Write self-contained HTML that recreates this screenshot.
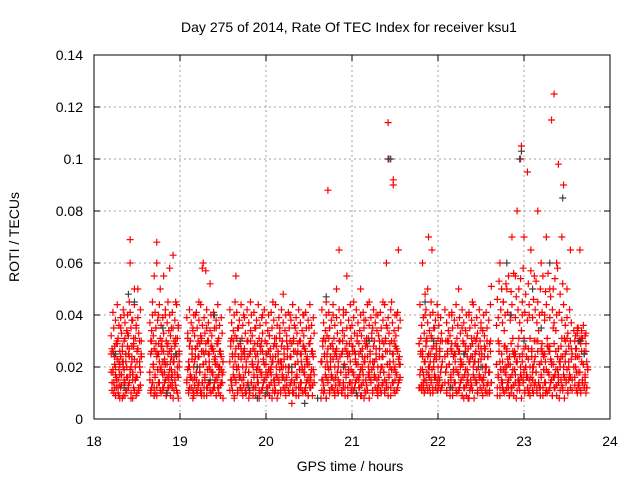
<!DOCTYPE html>
<html><head><meta charset="utf-8"><style>
html,body{margin:0;padding:0;background:#fff;}
svg{display:block;font-family:"Liberation Sans",sans-serif;}
</style></head><body>
<svg id="chart" width="640" height="480" viewBox="0 0 640 480"></svg>
<script>
// ---- data ----
const xTicks=[18,19,20,21,22,23,24];
const yTicks=[0,0.02,0.04,0.06,0.08,0.1,0.12,0.14];
const yTickLabels=["0","0.02","0.04","0.06","0.08","0.1","0.12","0.14"];
const redTimes=[
18.22,18.23,18.24,18.25,18.26,18.27,18.28,18.29,18.3,18.31,18.32,18.33,18.34,18.35,18.36,18.37,18.38,18.39,18.4,18.41,18.42,18.42,18.43,18.44,18.45,18.46,18.47,18.48,18.49,18.5,18.51,18.52,18.53,18.54,18.55,18.3,18.35,18.45,18.5,
18.65,18.66,18.67,18.68,18.69,18.70,18.71,18.72,18.73,18.73,18.74,18.75,18.76,18.77,18.78,18.79,18.80,18.81,18.82,18.83,18.84,18.85,18.86,18.87,18.88,18.89,18.90,18.91,18.92,18.93,18.94,18.95,18.96,18.97,18.98,18.99,18.70,18.80,18.90,
19.1,19.11,19.12,19.13,19.14,19.15,19.16,19.17,19.18,19.19,19.2,19.21,19.22,19.23,19.24,19.25,19.26,19.27,19.28,19.29,19.3,19.31,19.32,19.33,19.34,19.35,19.36,19.37,19.38,19.39,19.4,19.41,19.42,19.43,19.44,19.45,19.46,19.47,19.48,19.5,19.15,19.25,19.35,19.45,
19.6,19.62,19.64,19.65,19.66,19.68,19.7,19.72,19.74,19.76,19.78,19.8,19.82,19.84,19.86,19.88,19.9,19.92,19.94,19.96,19.98,20.0,20.02,20.04,20.06,20.08,20.1,20.12,20.14,20.16,20.18,20.2,20.22,20.24,20.26,20.28,20.3,20.32,20.34,20.36,20.38,20.4,20.42,20.44,20.46,20.48,20.5,20.52,20.54,19.63,19.7,19.8,19.9,20.0,20.1,20.2,20.3,20.4,20.5,19.75,19.85,19.95,20.05,20.15,20.25,20.35,20.45,
20.65,20.67,20.69,20.7,20.72,20.72,20.74,20.76,20.78,20.8,20.82,20.84,20.85,20.86,20.88,20.9,20.92,20.94,20.96,20.98,21.0,21.02,21.04,21.06,21.08,21.1,21.12,21.14,21.16,21.18,21.2,21.22,21.24,21.26,21.28,21.3,21.32,21.34,21.36,21.38,21.4,21.41,21.42,21.43,21.44,21.46,21.48,21.48,21.49,21.5,21.52,21.54,20.7,20.8,20.9,21.0,21.1,21.2,21.3,21.4,21.5,20.75,20.95,21.15,21.35,
21.8,21.82,21.84,21.85,21.86,21.88,21.89,21.9,21.92,21.93,21.94,21.96,21.98,22.0,22.02,22.04,21.83,21.87,21.91,21.95,21.99,22.03,
22.1,22.12,22.14,22.16,22.18,22.2,22.22,22.24,22.26,22.28,22.3,22.32,22.34,22.36,22.38,22.4,22.42,22.44,22.46,22.48,22.5,22.52,22.54,22.56,22.58,22.6,22.15,22.25,22.35,22.45,22.55,
22.7,22.72,22.74,22.76,22.78,22.8,22.82,22.84,22.86,22.88,22.9,22.92,22.94,22.96,22.97,22.98,23.0,23.02,23.04,23.06,23.08,23.1,23.12,23.14,23.16,23.18,23.2,23.22,23.24,23.26,23.28,23.3,23.32,23.34,23.35,23.36,23.38,23.4,23.42,23.44,23.46,23.48,23.5,23.52,23.54,22.75,22.85,22.95,23.05,23.15,23.25,23.35,23.45,22.8,23.0,23.2,23.4,22.9,23.1,23.3,
23.6,23.62,23.64,23.66,23.68,23.7,23.72,23.74,23.63,23.67,23.71,23.65
];
const redRoti=[
0.018,0.025,0.012,0.02,0.015,0.03,0.01,0.022,0.017,0.035,0.013,0.028,0.02,0.04,0.009,0.025,0.016,0.033,0.012,0.045,0.069,0.06,0.02,0.038,0.008,0.028,0.05,0.015,0.035,0.022,0.05,0.012,0.03,0.018,0.025,0.008,0.014,0.018,0.01,
0.015,0.03,0.012,0.045,0.02,0.055,0.01,0.035,0.068,0.06,0.025,0.04,0.014,0.05,0.02,0.03,0.012,0.055,0.018,0.04,0.01,0.028,0.045,0.015,0.058,0.022,0.035,0.012,0.063,0.03,0.018,0.045,0.025,0.01,0.035,0.02,0.009,0.022,0.016,
0.02,0.012,0.03,0.016,0.025,0.035,0.01,0.022,0.04,0.015,0.028,0.012,0.045,0.02,0.032,0.01,0.058,0.06,0.025,0.015,0.057,0.035,0.012,0.03,0.02,0.052,0.01,0.027,0.018,0.04,0.012,0.022,0.035,0.015,0.03,0.01,0.02,0.025,0.014,0.018,0.008,0.009,0.014,0.02,
0.015,0.03,0.045,0.055,0.02,0.035,0.012,0.025,0.04,0.01,0.03,0.018,0.045,0.022,0.012,0.035,0.02,0.008,0.028,0.04,0.015,0.025,0.01,0.032,0.02,0.045,0.015,0.028,0.01,0.035,0.022,0.048,0.012,0.03,0.02,0.04,0.015,0.01,0.035,0.025,0.012,0.03,0.02,0.04,0.01,0.022,0.035,0.015,0.025,0.009,0.012,0.008,0.016,0.018,0.01,0.02,0.006,0.012,0.014,0.025,0.02,0.03,0.018,0.022,0.028,0.016,0.02,
0.015,0.01,0.03,0.045,0.088,0.02,0.035,0.012,0.04,0.025,0.05,0.015,0.065,0.03,0.01,0.042,0.02,0.055,0.018,0.035,0.012,0.045,0.025,0.032,0.015,0.05,0.02,0.038,0.01,0.028,0.045,0.015,0.035,0.022,0.04,0.012,0.03,0.02,0.045,0.015,0.06,0.035,0.114,0.1,0.02,0.045,0.09,0.092,0.03,0.015,0.04,0.065,0.008,0.01,0.012,0.014,0.009,0.018,0.01,0.012,0.02,0.022,0.025,0.03,0.02,
0.025,0.06,0.015,0.04,0.03,0.05,0.07,0.02,0.045,0.065,0.012,0.035,0.025,0.04,0.015,0.02,0.012,0.018,0.01,0.022,0.014,0.03,
0.02,0.03,0.012,0.04,0.018,0.025,0.01,0.05,0.02,0.035,0.008,0.028,0.015,0.04,0.012,0.045,0.022,0.03,0.01,0.025,0.035,0.015,0.028,0.02,0.01,0.018,0.015,0.012,0.008,0.014,0.02,
0.03,0.06,0.015,0.045,0.02,0.05,0.012,0.04,0.07,0.025,0.055,0.08,0.015,0.1,0.105,0.045,0.07,0.02,0.095,0.04,0.065,0.015,0.055,0.03,0.08,0.012,0.06,0.025,0.04,0.07,0.018,0.05,0.115,0.035,0.125,0.012,0.06,0.098,0.02,0.07,0.09,0.03,0.05,0.015,0.065,0.012,0.01,0.014,0.01,0.012,0.01,0.016,0.012,0.02,0.018,0.022,0.016,0.025,0.02,0.028,
0.02,0.035,0.012,0.03,0.015,0.025,0.01,0.02,0.018,0.022,0.014,0.065
];
// dense low-level band: sample times (hours) and three ROTI readings per time
const bandTimes=[
18.20,18.21,18.22,18.23,18.24,18.25,18.26,18.27,18.28,18.29,18.30,18.31,18.32,18.33,18.34,18.35,18.36,18.37,18.38,18.39,18.40,18.41,18.42,18.43,18.44,18.45,18.46,18.47,18.48,18.49,18.50,18.51,18.52,18.53,18.54,18.55,
18.65,18.66,18.67,18.68,18.69,18.70,18.71,18.72,18.73,18.74,18.75,18.76,18.77,18.78,18.79,18.80,18.81,18.82,18.83,18.84,18.85,18.86,18.87,18.88,18.89,18.90,18.91,18.92,18.93,18.94,18.95,18.96,18.97,18.98,18.99,
19.08,19.09,19.10,19.11,19.12,19.13,19.14,19.15,19.16,19.17,19.18,19.19,19.20,19.21,19.22,19.23,19.24,19.25,19.26,19.27,19.28,19.29,19.30,19.31,19.32,19.33,19.34,19.35,19.36,19.37,19.38,19.39,19.40,19.41,19.42,19.43,19.44,19.45,19.46,19.47,19.48,19.49,19.50,
19.58,19.59,19.60,19.61,19.62,19.63,19.64,19.65,19.66,19.67,19.68,19.69,19.70,19.71,19.72,19.73,19.74,19.75,19.76,19.77,19.78,19.79,19.80,19.81,19.82,19.83,19.84,19.85,19.86,19.87,19.88,19.89,19.90,19.91,19.92,19.93,19.94,19.95,19.96,19.97,19.98,19.99,
20.00,20.01,20.02,20.03,20.04,20.05,20.06,20.07,20.08,20.09,20.10,20.11,20.12,20.13,20.14,20.15,20.16,20.17,20.18,20.19,20.20,20.21,20.22,20.23,20.24,20.25,20.26,20.27,20.28,20.29,20.30,20.31,20.32,20.33,20.34,20.35,20.36,20.37,20.38,20.39,20.40,20.41,20.42,20.43,20.44,20.45,20.46,20.47,20.48,20.49,20.50,20.51,20.52,20.53,20.54,20.55,20.56,
20.64,20.65,20.66,20.67,20.68,20.69,20.70,20.71,20.72,20.73,20.74,20.75,20.76,20.77,20.78,20.79,20.80,20.81,20.82,20.83,20.84,20.85,20.86,20.87,20.88,20.89,20.90,20.91,20.92,20.93,20.94,20.95,20.96,20.97,20.98,20.99,
21.00,21.01,21.02,21.03,21.04,21.05,21.06,21.07,21.08,21.09,21.10,21.11,21.12,21.13,21.14,21.15,21.16,21.17,21.18,21.19,21.20,21.21,21.22,21.23,21.24,21.25,21.26,21.27,21.28,21.29,21.30,21.31,21.32,21.33,21.34,21.35,21.36,21.37,21.38,21.39,21.40,21.41,21.42,21.43,21.44,21.45,21.46,21.47,21.48,21.49,21.50,21.51,21.52,21.53,21.54,21.55,21.56,
21.78,21.79,21.80,21.81,21.82,21.83,21.84,21.85,21.86,21.87,21.88,21.89,21.90,21.91,21.92,21.93,21.94,21.95,21.96,21.97,21.98,21.99,22.00,22.01,22.02,22.03,22.04,22.05,
22.08,22.09,22.10,22.11,22.12,22.13,22.14,22.15,22.16,22.17,22.18,22.19,22.20,22.21,22.22,22.23,22.24,22.25,22.26,22.27,22.28,22.29,22.30,22.31,22.32,22.33,22.34,22.35,22.36,22.37,22.38,22.39,22.40,22.41,22.42,22.43,22.44,22.45,22.46,22.47,22.48,22.49,22.50,22.51,22.52,22.53,22.54,22.55,22.56,22.57,22.58,22.59,22.60,22.61,22.62,
22.68,22.69,22.70,22.71,22.72,22.73,22.74,22.75,22.76,22.77,22.78,22.79,22.80,22.81,22.82,22.83,22.84,22.85,22.86,22.87,22.88,22.89,22.90,22.91,22.92,22.93,22.94,22.95,22.96,22.97,22.98,22.99,
23.00,23.01,23.02,23.03,23.04,23.05,23.06,23.07,23.08,23.09,23.10,23.11,23.12,23.13,23.14,23.15,23.16,23.17,23.18,23.19,23.20,23.21,23.22,23.23,23.24,23.25,23.26,23.27,23.28,23.29,23.30,23.31,23.32,23.33,23.34,23.35,23.36,23.37,23.38,23.39,23.40,23.41,23.42,23.43,23.44,23.45,23.46,23.47,23.48,23.49,23.50,23.51,23.52,23.53,23.54,23.55,23.56,
23.58,23.59,23.60,23.61,23.62,23.63,23.64,23.65,23.66,23.67,23.68,23.69,23.70,23.71,23.72,23.73,23.74,23.75
];
const bandRotiA=[
.018,.011,.026,.014,.021,.009,.016,.029,.012,.019,.013,.024,.017,.008,.022,.015,.031,.011,.020,.016,.025,.014,.019,.010,.028,.017,.012,.023,.015,.009,.016,.027,.011,.020,.013,.024,
.018,.010,.030,.014,.021,.012,.017,.026,.009,.019,.014,.022,.011,.028,.018,.011,.026,.014,.021,.009,.016,.029,.012,.019,.013,.024,.017,.008,.022,.015,.031,.011,.020,.016,.025,
.014,.019,.010,.028,.017,.012,.023,.015,.009,.016,.027,.011,.020,.013,.024,.018,.010,.030,.014,.021,.012,.017,.026,.009,.019,.014,.022,.011,.028,.018,.011,.026,.014,.021,.009,.016,.029,.012,.019,.013,.024,.017,
.008,.022,.015,.031,.011,.020,.016,.025,.014,.019,.010,.028,.017,.012,.023,.015,.009,.016,.027,.011,.020,.013,.024,.018,.010,.030,.014,.021,.012,.017,.026,.009,.019,.014,.022,.011,.028,.018,.011,.026,.014,.021,
.009,.016,.029,.012,.019,.013,.024,.017,.008,.022,.015,.031,.011,.020,.016,.025,.014,.019,.010,.028,.017,.012,.023,.015,.009,.016,.027,.011,.020,.013,.024,.018,.010,.030,.014,.021,.012,.017,.026,.009,.019,.014,.022,.011,.028,.018,.011,.026,.014,.021,.009,.016,.029,.012,.019,.013,.024,
.017,.008,.022,.015,.031,.011,.020,.016,.025,.014,.019,.010,.028,.017,.012,.023,.015,.009,.016,.027,.011,.020,.013,.024,.018,.010,.030,.014,.021,.012,.017,.026,.009,.019,.014,.022,
.011,.028,.018,.011,.026,.014,.021,.009,.016,.029,.012,.019,.013,.024,.017,.008,.022,.015,.031,.011,.020,.016,.025,.014,.019,.010,.028,.017,.012,.023,.015,.009,.016,.027,.011,.020,.013,.024,.018,.010,.030,.014,.021,.012,.017,.026,.009,.019,.014,.022,.011,.028,.018,.011,.026,.014,.021,
.016,.029,.012,.019,.013,.024,.017,.010,.022,.015,.031,.011,.020,.016,.025,.014,.019,.010,.028,.017,.012,.023,.015,.011,.016,.027,.011,.020,
.013,.024,.018,.010,.030,.014,.021,.012,.017,.026,.009,.019,.014,.022,.011,.028,.018,.011,.026,.014,.021,.009,.016,.029,.012,.019,.013,.024,.017,.008,.022,.015,.031,.011,.020,.016,.025,.014,.019,.010,.028,.017,.012,.023,.015,.009,.016,.027,.011,.020,.013,.024,.018,.010,.030,
.014,.021,.012,.017,.026,.009,.019,.014,.022,.011,.028,.018,.011,.026,.014,.021,.009,.016,.029,.012,.019,.013,.024,.017,.008,.022,.015,.031,.011,.020,.016,.025,
.014,.019,.010,.028,.017,.012,.023,.015,.009,.016,.027,.011,.020,.013,.024,.018,.010,.030,.014,.021,.012,.017,.026,.009,.019,.014,.022,.011,.028,.018,.011,.026,.014,.021,.009,.016,.029,.012,.019,.013,.024,.017,.008,.022,.015,.031,.011,.020,.016,.025,.014,.019,.010,.028,.017,.012,.023,
.015,.020,.016,.027,.011,.024,.013,.030,.018,.010,.031,.014,.021,.012,.017,.026,.012,.019
];
const bandRotiB=[
.025,.014,.019,.010,.028,.017,.012,.023,.015,.009,.021,.012,.017,.026,.009,.019,.014,.022,.011,.028,.013,.024,.017,.008,.022,.015,.031,.011,.020,.016,.016,.027,.011,.020,.013,.024,
.018,.011,.026,.014,.021,.009,.016,.029,.012,.019,.025,.014,.019,.010,.028,.017,.012,.023,.015,.009,.021,.012,.017,.026,.009,.019,.014,.022,.011,.028,.013,.024,.017,.008,.022,
.015,.031,.011,.020,.016,.016,.027,.011,.020,.013,.024,.018,.010,.030,.014,.018,.011,.026,.014,.021,.009,.016,.029,.012,.019,.025,.014,.019,.010,.028,.017,.012,.023,.015,.009,.021,.012,.017,.026,.009,.019,.014,
.022,.011,.028,.013,.024,.017,.008,.022,.015,.031,.011,.020,.016,.016,.027,.011,.020,.013,.024,.018,.010,.030,.014,.018,.011,.026,.014,.021,.009,.016,.029,.012,.019,.025,.014,.019,.010,.028,.017,.012,.023,
.015,.009,.021,.012,.017,.026,.009,.019,.014,.022,.011,.028,.013,.024,.017,.008,.022,.015,.031,.011,.020,.016,.016,.027,.011,.020,.013,.024,.018,.010,.030,.014,.018,.011,.026,.014,.021,.009,.016,.029,.012,.019,.025,.014,.019,.010,.028,.017,.012,.023,.015,.009,.021,.012,.017,.026,.009,.019,
.014,.022,.011,.028,.013,.024,.017,.008,.022,.015,.031,.011,.020,.016,.016,.027,.011,.020,.013,.024,.018,.010,.030,.014,.018,.011,.026,.014,.021,.009,.016,.029,.012,.019,.025,.014,
.019,.010,.028,.017,.012,.023,.015,.009,.021,.012,.017,.026,.009,.019,.014,.022,.011,.028,.013,.024,.017,.008,.022,.015,.031,.011,.020,.016,.016,.027,.011,.020,.013,.024,.018,.010,.030,.014,.018,.011,.026,.014,.021,.009,.016,.029,.012,.019,.025,.014,.019,.010,.028,.017,.012,.023,.015,
.021,.012,.017,.026,.011,.019,.014,.022,.011,.028,.013,.024,.017,.012,.022,.015,.031,.011,.020,.016,.016,.027,.011,.020,.013,.024,.018,.012,
.030,.014,.018,.011,.026,.014,.021,.009,.016,.029,.012,.019,.025,.014,.019,.010,.028,.017,.012,.023,.015,.009,.021,.012,.017,.026,.009,.019,.014,.022,.011,.028,.013,.024,.017,.008,.022,.015,.031,.011,.020,.016,.016,.027,.011,.020,.013,.024,.018,.010,.030,.014,.018,.011,.026,
.014,.021,.009,.016,.029,.012,.019,.025,.014,.019,.010,.028,.017,.012,.023,.015,.009,.021,.012,.017,.026,.009,.019,.014,.022,.011,.028,.013,.024,.017,.008,.022,
.015,.031,.011,.020,.016,.016,.027,.011,.020,.013,.024,.018,.010,.030,.014,.018,.011,.026,.014,.021,.009,.016,.029,.012,.019,.025,.014,.019,.010,.028,.017,.012,.023,.015,.009,.021,.012,.017,.026,.009,.019,.014,.022,.011,.028,.013,.024,.017,.008,.022,.015,.031,.011,.020,.016,.016,.027,
.011,.020,.013,.024,.018,.010,.030,.014,.018,.011,.026,.014,.021,.012,.016,.029,.012,.019
];
const bandRotiC=[
.032,.027,.041,.035,.024,.038,.029,.044,.031,.036,.026,.039,.033,.022,.042,.030,.037,.025,.034,.040,.032,.027,.041,.035,.024,.038,.029,.044,.031,.036,.026,.039,.033,.022,.042,.030,
.037,.025,.034,.040,.032,.027,.041,.035,.024,.038,.029,.044,.031,.036,.026,.039,.033,.022,.042,.030,.037,.025,.034,.040,.032,.027,.041,.035,.024,.038,.029,.044,.031,.036,.026,
.039,.033,.022,.042,.030,.037,.025,.034,.040,.032,.027,.041,.035,.024,.038,.029,.044,.031,.036,.026,.039,.033,.022,.042,.030,.037,.025,.034,.040,.032,.027,.041,.035,.024,.038,.029,.044,.031,.036,.026,.039,.033,
.022,.042,.030,.037,.025,.034,.040,.032,.027,.041,.035,.024,.038,.029,.044,.031,.036,.026,.039,.033,.022,.042,.030,.037,.025,.034,.040,.032,.027,.041,.035,.024,.038,.029,.044,.031,.036,.026,.039,.033,.022,
.042,.030,.037,.025,.034,.040,.032,.027,.041,.035,.024,.038,.029,.044,.031,.036,.026,.039,.033,.022,.042,.030,.037,.025,.034,.040,.032,.027,.041,.035,.024,.038,.029,.044,.031,.036,.026,.039,.033,.022,.042,.030,.037,.025,.034,.040,.032,.027,.041,.035,.024,.038,.029,.044,.031,.036,.026,
.039,.033,.022,.042,.030,.037,.025,.034,.040,.032,.027,.041,.035,.024,.038,.029,.044,.031,.036,.026,.039,.033,.022,.042,.030,.037,.025,.034,.040,.032,.027,.041,.035,.024,.038,.029,
.044,.031,.036,.026,.039,.033,.022,.042,.030,.037,.025,.034,.040,.032,.027,.041,.035,.024,.038,.029,.044,.031,.036,.026,.039,.033,.022,.042,.030,.037,.025,.034,.040,.032,.027,.041,.035,.024,.038,.029,.044,.031,.036,.026,.039,.033,.022,.042,.030,.037,.025,.034,.040,.032,.027,.041,.035,
.024,.038,.029,.044,.031,.036,.026,.039,.033,.048,.042,.030,.037,.025,.034,.040,.032,.027,.041,.035,.024,.038,.029,.044,.031,.036,.026,.039,
.033,.022,.042,.030,.037,.025,.034,.040,.032,.027,.041,.035,.024,.038,.029,.044,.031,.036,.026,.039,.033,.022,.042,.030,.037,.025,.034,.040,.032,.027,.041,.035,.024,.038,.029,.044,.031,.036,.026,.039,.033,.022,.042,.030,.037,.025,.034,.040,.032,.027,.041,.035,.024,.038,.029,
.044,.051,.036,.046,.039,.053,.022,.042,.050,.037,.045,.034,.040,.052,.027,.041,.055,.024,.038,.049,.044,.031,.056,.026,.039,.047,.022,.042,.050,.037,.054,.034,
.040,.058,.027,.041,.048,.024,.038,.052,.044,.031,.057,.026,.039,.046,.022,.042,.053,.037,.045,.034,.040,.050,.027,.041,.055,.024,.038,.049,.044,.031,.056,.026,.039,.047,.022,.042,.050,.037,.054,.034,.040,.058,.027,.041,.048,.024,.038,.052,.044,.031,.036,.026,.039,.033,.022,.042,.030,
.037,.025,.034,.030,.032,.027,.033,.035,.024,.031,.029,.034,.031,.036,.026,.032,.033,.022
];
const blackTimes=[18.25,18.4,18.47,18.8,18.95,19.2,19.4,19.7,20.0,20.3,20.7,20.9,21.2,21.42,21.45,21.85,21.95,22.3,22.5,22.8,22.95,22.97,23.1,23.2,23.3,23.45,23.7,23.65,19.9,20.45,21.05,22.15,22.85,23.0,18.35,18.85,19.35,19.8,20.6];
const blackRoti=[0.025,0.048,0.045,0.035,0.025,0.02,0.04,0.03,0.01,0.02,0.047,0.02,0.03,0.1,0.1,0.045,0.03,0.025,0.02,0.06,0.1,0.103,0.05,0.035,0.06,0.085,0.025,0.03,0.008,0.006,0.01,0.012,0.04,0.03,0.012,0.01,0.015,0.012,0.008];

// ---- layout ----
const L=94,R=610,T=55,B=419,X0=18,X1=24,Y0=0,Y1=0.14;
const xs=v=>L+(v-X0)/(X1-X0)*(R-L);
const ys=v=>B-(v-Y0)/(Y1-Y0)*(B-T);
const NS="http://www.w3.org/2000/svg";
const svg=document.getElementById('chart');
function mk(tag,attrs,parent){const e=document.createElementNS(NS,tag);for(const k in attrs)e.setAttribute(k,attrs[k]);(parent||svg).appendChild(e);return e;}

const grid=mk('g',{});


xTicks.forEach((t,i)=>{
  if(i>0&&i<xTicks.length-1){const g=mk('line',{x1:xs(t),x2:xs(t),y1:T,y2:B,stroke:'#a0a0a0','stroke-dasharray':'2,3','stroke-width':1},grid);
  }
  const tk=mk('line',{x1:xs(t),x2:xs(t),y1:B,y2:B-6,stroke:'#000'});
  
  const tk2=mk('line',{x1:xs(t),x2:xs(t),y1:T,y2:T+6,stroke:'#000'});
  
  const lb=mk('text',{x:xs(t),y:B+27,'text-anchor':'middle','font-size':14,fill:'#000'});lb.textContent=t;
  
});
yTicks.forEach((t,i)=>{
  if(i>0&&i<yTicks.length-1){const g=mk('line',{x1:L,x2:R,y1:ys(t),y2:ys(t),stroke:'#a0a0a0','stroke-dasharray':'2,3','stroke-width':1},grid);
  }
  const tk=mk('line',{x1:L,x2:L+6,y1:ys(t),y2:ys(t),stroke:'#000'});
  
  const tk2=mk('line',{x1:R,x2:R-6,y1:ys(t),y2:ys(t),stroke:'#000'});
  
  const lb=mk('text',{x:L-11,y:ys(t)+5,'text-anchor':'end','font-size':14,fill:'#000'});lb.textContent=yTickLabels[i];
  
});

function drawSeries(times,vals,color,name){
  const g=mk('g',{stroke:color,'stroke-width':1.2});
  
  
  const n=Math.min(times.length,vals.length);
  for(let i=0;i<n;i++){
    const x=xs(times[i]),y=ys(vals[i]);
    const p=mk('path',{d:`M${x-3.5},${y}H${x+3.5}M${x},${y-3.5}V${y+3.5}`},g);
    
    
  }
}
drawSeries(bandTimes,bandRotiC,'#ff0000','red-series-band-upper');
drawSeries(bandTimes,bandRotiA,'#ff0000','red-series-band-a');
drawSeries(bandTimes,bandRotiB,'#ff0000','red-series-band-b');
drawSeries(redTimes,redRoti,'#ff0000','red-series');
drawSeries(blackTimes,blackRoti,'#404040','black-series');

const frame=mk('rect',{x:L,y:T,width:R-L,height:B-T,fill:'none',stroke:'#000','stroke-width':1});



const title=mk('text',{x:349,y:32,'text-anchor':'middle','font-size':14});
title.textContent='Day 275 of 2014, Rate Of TEC Index for receiver ksu1';


const xl=mk('text',{x:350,y:471,'text-anchor':'middle','font-size':14});
xl.textContent='GPS time / hours';


const yl=mk('text',{x:19,y:237,'text-anchor':'middle','font-size':14,transform:'rotate(-90 19 237)'});
yl.textContent='ROTI / TECUs';


</script>
</body></html>
